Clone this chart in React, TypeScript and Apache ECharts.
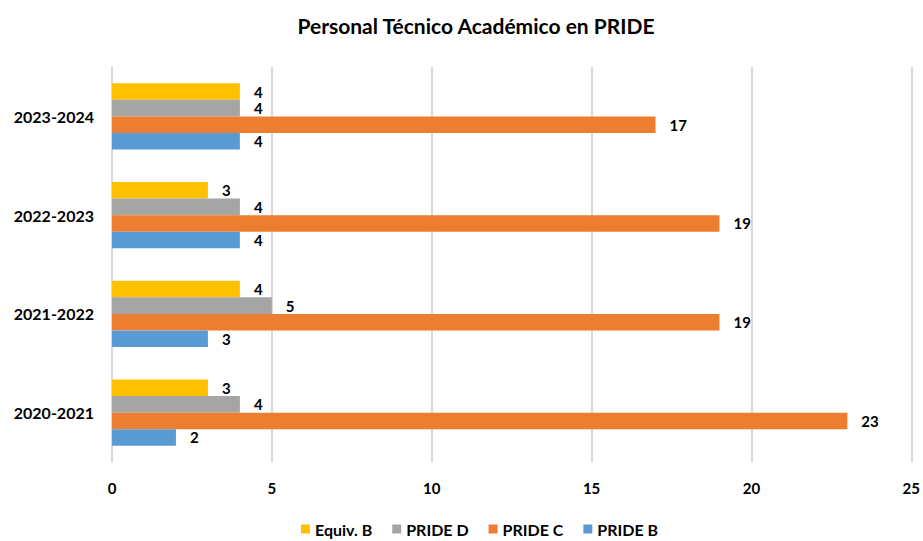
import React, { useEffect, useRef } from "react";
import * as echarts from "echarts";

const categories = ["2020-2021", "2021-2022", "2022-2023", "2023-2024"];
const prideB = [2, 3, 4, 4];
const prideC = [23, 19, 19, 17];
const prideD = [4, 5, 4, 4];
const equivB = [3, 4, 3, 4];
const xTicks = { min: 0, max: 25, interval: 5 };
const legendOrder = ["Equiv. B", "PRIDE D", "PRIDE C", "PRIDE B"];

const FONT = "Lato";

export default function App() {
  const ref = useRef<HTMLDivElement>(null);
  useEffect(() => {
    if (!ref.current) return;
    const chart = echarts.init(ref.current, undefined, { renderer: "svg" });
    const label = {
      show: true,
      position: "right" as const,
      distance: 14,
      color: "#000",
      fontFamily: FONT,
      fontWeight: "bold" as const,
      fontSize: 15,
    };
    const mk = (name: string, data: number[], color: string) => ({
      name,
      type: "bar" as const,
      data,
      barGap: "0%",
      barCategoryGap: "33%",
      itemStyle: { color },
      label,
    });
    chart.setOption({
      animation: false,
      backgroundColor: "#fff",
      title: {
        text: "Personal Técnico Académico en PRIDE",
        left: 471,
        textAlign: "center",
        top: 10,
        textStyle: { fontFamily: FONT, fontWeight: "bold", fontSize: 21, color: "#000" },
      },
      legend: {
        data: legendOrder,
        top: 521,
        left: 296,
        icon: "rect",
        itemWidth: 9,
        itemHeight: 9,
        itemGap: 20,
        padding: [0, 5],
        textStyle: { fontFamily: FONT, fontWeight: "bold", fontSize: 16, color: "#000" },
      },
      grid: { left: 112, right: 8, top: 67, bottom: 79, containLabel: false },
      xAxis: {
        type: "value",
        min: xTicks.min,
        max: xTicks.max,
        interval: xTicks.interval,
        axisLine: { show: false },
        axisTick: { show: false },
        splitLine: { show: true, lineStyle: { color: "#d9d9d9", width: 2 } },
        axisLabel: {
          margin: 18,
          fontFamily: FONT,
          fontWeight: "bold",
          fontSize: 15,
          color: "#000",
        },
      },
      yAxis: {
        type: "category",
        data: categories,
        axisLine: { show: true, lineStyle: { color: "#d9d9d9", width: 2 } },
        axisTick: { show: false },
        axisLabel: {
          margin: 18,
          fontFamily: FONT,
          fontWeight: "bold",
          fontSize: 16,
          color: "#000",
        },
      },
      series: [
        mk("Equiv. B", equivB, "#FFC000"),
        mk("PRIDE D", prideD, "#A5A5A5"),
        mk("PRIDE C", prideC, "#ED7D31"),
        mk("PRIDE B", prideB, "#5B9BD5"),
      ],
    });
    return () => chart.dispose();
  }, []);
  return <div ref={ref} style={{ width: 923, height: 541, position: "absolute", left: 0, top: 0 }} />;
}
